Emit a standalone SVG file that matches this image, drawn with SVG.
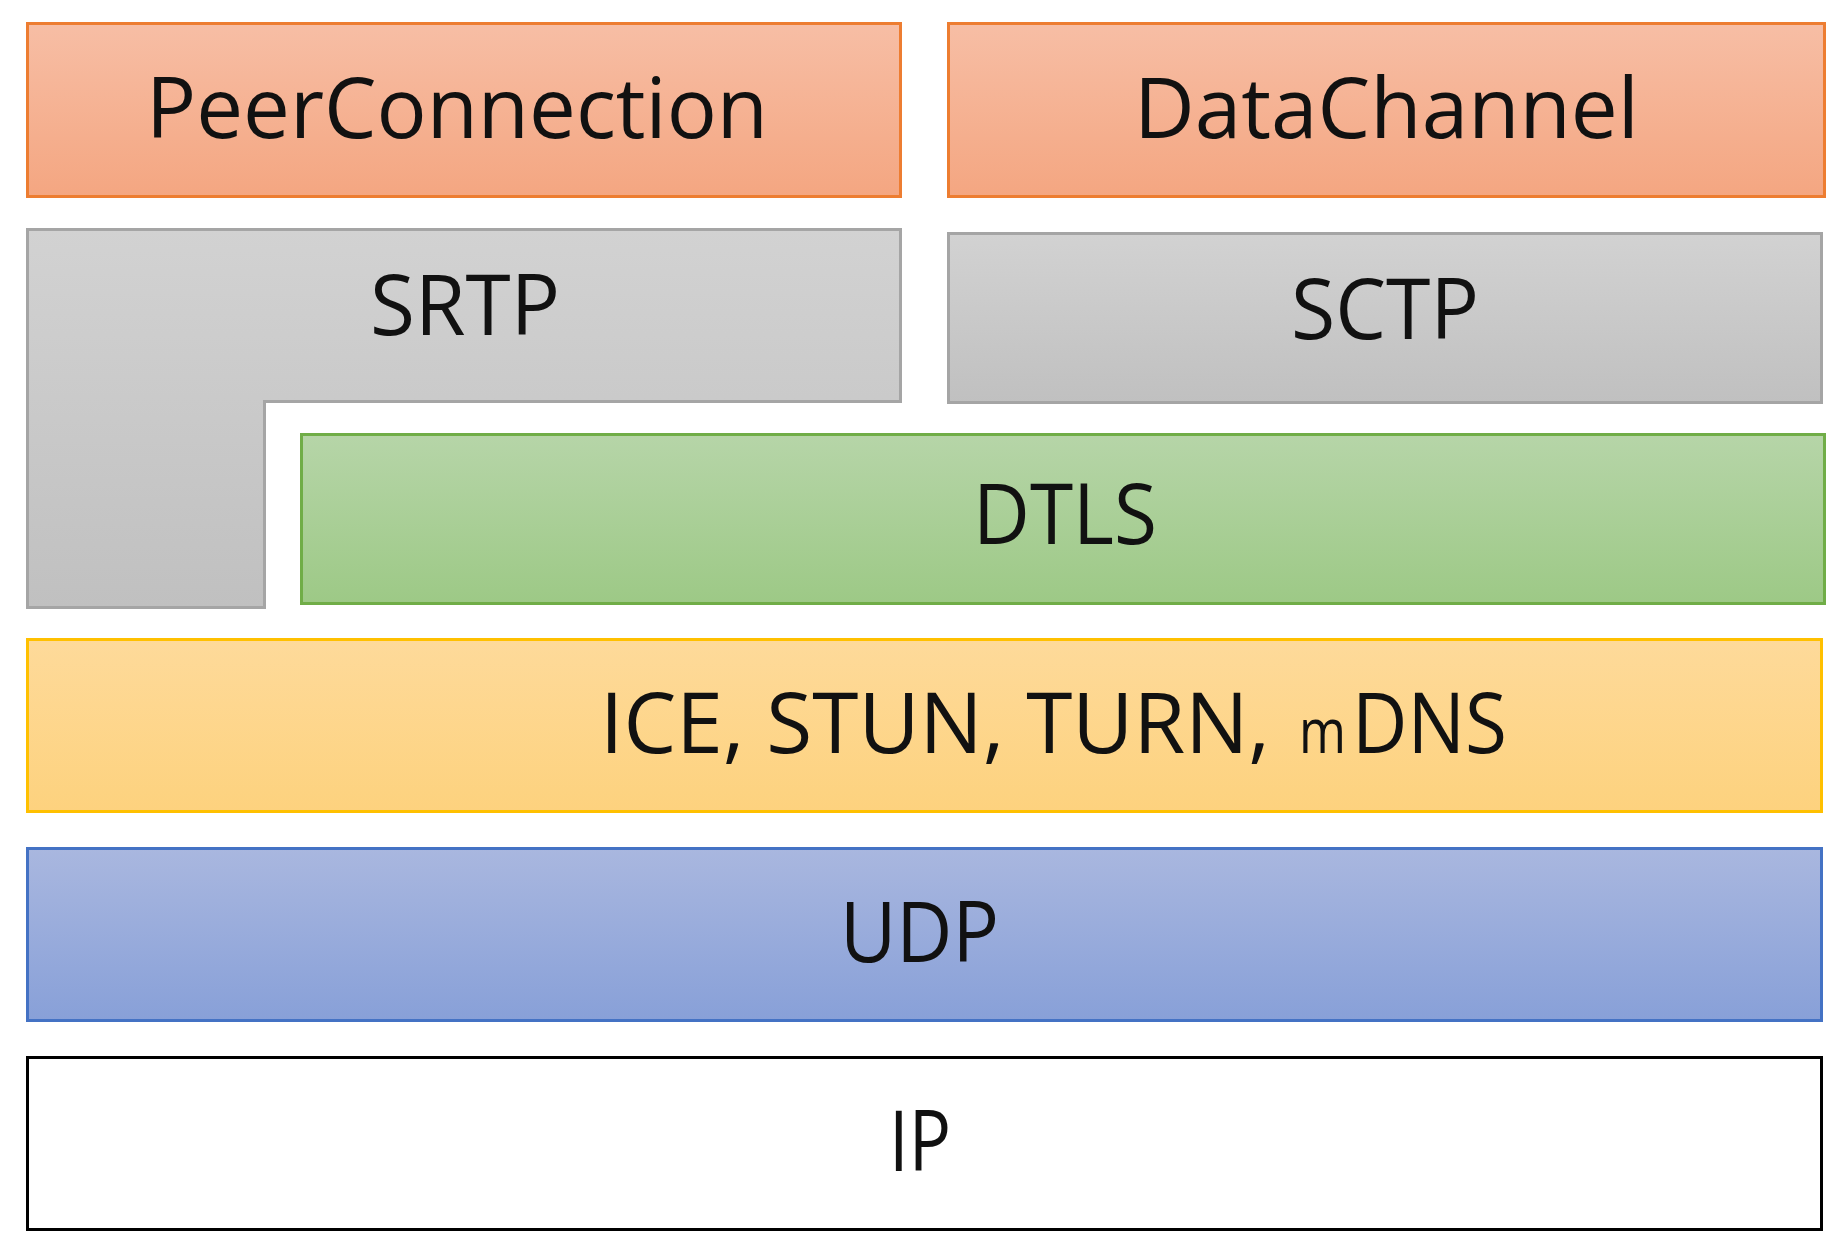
<svg xmlns="http://www.w3.org/2000/svg" width="1844" height="1252" viewBox="0 0 1844 1252">
<style>
.lbl{font-family:"Open Sans","Noto Sans","Liberation Sans",sans-serif;font-size:84px;fill:#111;}
.sm{font-size:62px;}
</style>
<defs>
<linearGradient id="gO" x1="0" y1="0" x2="0" y2="1"><stop offset="0" stop-color="#F7BEA5"/><stop offset="1" stop-color="#F4A681"/></linearGradient>
<linearGradient id="gG" x1="0" y1="0" x2="0" y2="1"><stop offset="0" stop-color="#D2D2D2"/><stop offset="1" stop-color="#C0C0C0"/></linearGradient>
<linearGradient id="gGr" x1="0" y1="0" x2="0" y2="1"><stop offset="0" stop-color="#B6D5A8"/><stop offset="1" stop-color="#9DC986"/></linearGradient>
<linearGradient id="gY" x1="0" y1="0" x2="0" y2="1"><stop offset="0" stop-color="#FEDA9A"/><stop offset="1" stop-color="#FDD27E"/></linearGradient>
<linearGradient id="gB" x1="0" y1="0" x2="0" y2="1"><stop offset="0" stop-color="#A9B7DF"/><stop offset="1" stop-color="#88A0D8"/></linearGradient>
</defs>
<rect width="1844" height="1252" fill="#fff"/>
<g id="peerconnection">
<rect x="27.5" y="23.5" width="873" height="173" fill="url(#gO)" stroke="#ED7D31" stroke-width="3"/>
<text class="lbl" x="146" y="138" textLength="622" lengthAdjust="spacingAndGlyphs">PeerConnection</text>
</g>
<g id="datachannel">
<rect x="948.5" y="23.5" width="876" height="173" fill="url(#gO)" stroke="#ED7D31" stroke-width="3"/>
<text class="lbl" x="1134" y="138" textLength="505" lengthAdjust="spacingAndGlyphs">DataChannel</text>
</g>
<g id="srtp">
<path d="M27.5 229.5 H900.5 V401.5 H264.5 V607.5 H27.5 Z" fill="url(#gG)" stroke="#A5A5A5" stroke-width="3"/>
<text class="lbl" x="370" y="335" textLength="190" lengthAdjust="spacingAndGlyphs">SRTP</text>
</g>
<g id="sctp">
<rect x="948.5" y="233.5" width="873" height="169" fill="url(#gG)" stroke="#A5A5A5" stroke-width="3"/>
<text class="lbl" x="1291" y="339" textLength="188" lengthAdjust="spacingAndGlyphs">SCTP</text>
</g>
<g id="dtls">
<rect x="301.5" y="434.5" width="1523" height="169" fill="url(#gGr)" stroke="#70AD47" stroke-width="3"/>
<text class="lbl" x="973" y="544" textLength="184" lengthAdjust="spacingAndGlyphs">DTLS</text>
</g>
<g id="ice">
<rect x="27.5" y="639.5" width="1794" height="172" fill="url(#gY)" stroke="#FFC000" stroke-width="3"/>
<text class="lbl" y="753"><tspan x="600" textLength="670" lengthAdjust="spacingAndGlyphs">ICE, STUN, TURN,</tspan><tspan class="sm" x="1299" textLength="47" lengthAdjust="spacingAndGlyphs">m</tspan><tspan x="1352" textLength="155" lengthAdjust="spacingAndGlyphs">DNS</tspan></text>
</g>
<g id="udp">
<rect x="27.5" y="848.5" width="1794" height="172" fill="url(#gB)" stroke="#4472C4" stroke-width="3"/>
<text class="lbl" x="840" y="962" textLength="159" lengthAdjust="spacingAndGlyphs">UDP</text>
</g>
<g id="ip">
<rect x="27.5" y="1057.5" width="1794" height="172" fill="#fff" stroke="#000" stroke-width="3"/>
<text class="lbl" x="889" y="1171" textLength="62" lengthAdjust="spacingAndGlyphs">IP</text>
</g>
<g id="connectors"/>
</svg>
